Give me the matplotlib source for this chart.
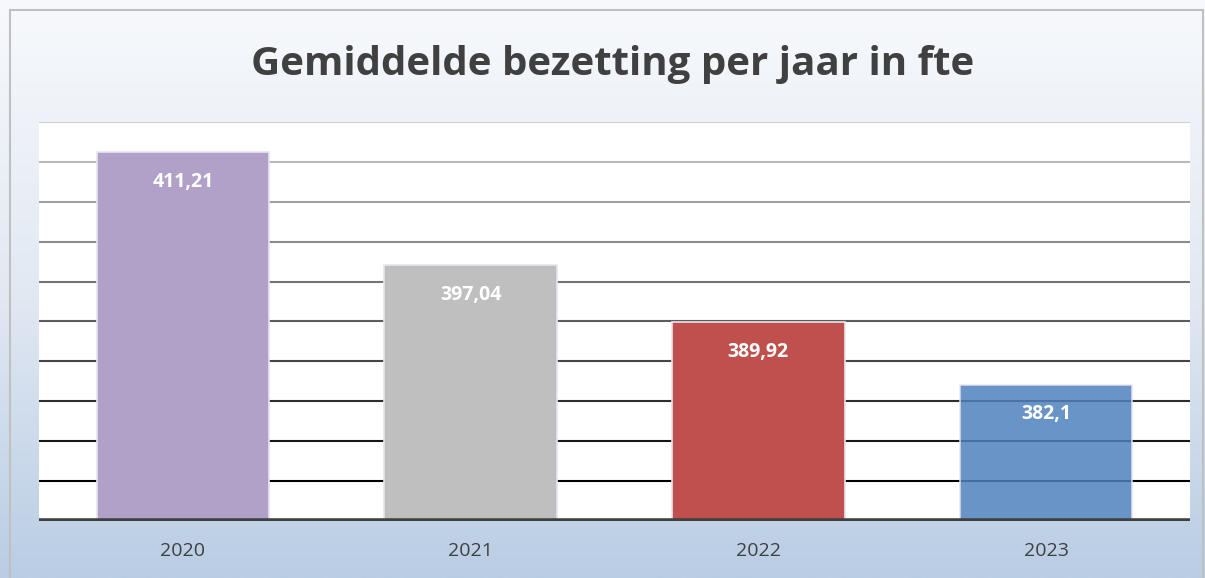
import numpy as np
import matplotlib.pyplot as plt
from matplotlib.colors import LinearSegmentedColormap
from matplotlib.patches import Rectangle

# -------------------------------
# Data
# -------------------------------
years = ["2020", "2021", "2022", "2023"]
fte = [411.21, 397.04, 389.92, 382.1]
labels = ["411,21", "397,04", "389,92", "382,1"]
bar_colors = ["#b1a0c7", "#bfbfbf", "#c0504d", "#4f81bd"]
bar_alpha = [1.0, 1.0, 1.0, 0.85]

ymin, ymax, ystep = 365, 415, 5

# -------------------------------
# Figure + gradient background
# -------------------------------
fig = plt.figure(figsize=(12.05, 5.78), dpi=100)
bg = fig.add_axes([0, 0, 1, 1])
bg_cmap = LinearSegmentedColormap.from_list("bg", ["#f7f9fc", "#e2e9f3", "#b9cde4"])
bg.imshow(np.linspace(0, 1, 256).reshape(-1, 1), aspect="auto", cmap=bg_cmap,
          extent=[0, 1, 0, 1], origin="upper")
bg.add_patch(Rectangle((10 / 1205, -0.01), 1193 / 1205, 1 - 10 / 578 + 0.01,
                       fill=False, edgecolor="#c0c0c0", linewidth=1.5))
bg.set_xlim(0, 1)
bg.set_ylim(0, 1)
bg.axis("off")

bg.text(613 / 1205, 1 - 64 / 578, "Gemiddelde bezetting per jaar in fte",
        ha="center", va="center", fontsize=29, fontweight="bold",
        color="#404040", family="Open Sans")

# -------------------------------
# Bar chart
# -------------------------------
ax = fig.add_axes([39 / 1205, 1 - 521 / 578, 1151 / 1205, 399 / 578])
ax.set_facecolor("white")
x = np.arange(len(years))

# gridlines, light at the top, dark at the bottom
levels = np.arange(ymin + ystep, ymax + 0.1, ystep)
grid_cmap = LinearSegmentedColormap.from_list("grid", ["#000000", "#d0d0d0"])
for i, lv in enumerate(levels):
    ax.axhline(lv, color=grid_cmap(i / (len(levels) - 1)), linewidth=1.5, zorder=1)

for xi, v, c, a in zip(x, fte, bar_colors, bar_alpha):
    ax.bar(xi, v - ymin, bottom=ymin, width=0.6, color=c, alpha=a,
           edgecolor="#e8e4f0", linewidth=1.2, zorder=2)

for xi, v, t in zip(x, fte, labels):
    ax.text(xi, v - 3.7, t, ha="center", va="center", color="white",
            fontsize=14, fontweight="bold", family="Open Sans", zorder=3)

ax.axhline(ymin, color="#404040", linewidth=4, zorder=4)

ax.set_xlim(-0.5, 3.5)
ax.set_ylim(ymin, ymax)
ax.set_yticks([])
ax.set_xticks(x)
ax.set_xticklabels(years, fontsize=14, color="#404040", family="Open Sans")
ax.tick_params(axis="x", length=0, pad=15)
for s in ax.spines.values():
    s.set_visible(False)

plt.savefig("out.png", dpi=100)
